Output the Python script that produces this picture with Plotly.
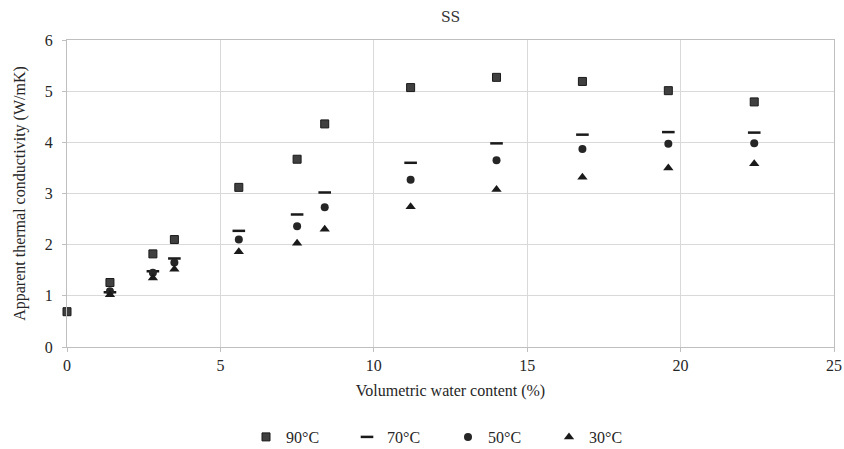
import plotly.graph_objects as go

x_vals = [0, 1.4, 2.8, 3.5, 5.6, 7.5, 8.4, 11.2, 14.0, 16.8, 19.6, 22.4]
k_90 = [0.69, 1.26, 1.82, 2.10, 3.12, 3.67, 4.36, 5.07, 5.27, 5.19, 5.01, 4.79]
k_70 = [None, 1.07, 1.48, 1.73, 2.27, 2.59, 3.02, 3.60, 3.98, 4.15, 4.20, 4.19]
k_50 = [None, 1.09, 1.45, 1.65, 2.10, 2.36, 2.73, 3.27, 3.65, 3.87, 3.97, 3.98]
k_30 = [None, 1.02, 1.35, 1.52, 1.86, 2.03, 2.30, 2.74, 3.08, 3.32, 3.50, 3.58]
series_names = ["90°C", "70°C", "50°C", "30°C"]

font_family = "Liberation Serif, Times New Roman, serif"

fig = go.Figure()
fig.add_trace(go.Scatter(x=x_vals, y=k_90, mode="markers", name=series_names[0],
                         cliponaxis=False,
                         marker=dict(symbol="square", size=8, color="#404040",
                                     line=dict(color="#1a1a1a", width=1))))
fig.add_trace(go.Scatter(x=x_vals, y=k_70, mode="markers", name=series_names[1],
                         cliponaxis=False,
                         marker=dict(symbol="line-ew", size=9, color="#1a1a1a",
                                     line=dict(color="#1a1a1a", width=2.5))))
fig.add_trace(go.Scatter(x=x_vals, y=k_50, mode="markers", name=series_names[2],
                         cliponaxis=False,
                         marker=dict(symbol="circle", size=8, color="#262626",
                                     line=dict(width=0))))
fig.add_trace(go.Scatter(x=x_vals, y=k_30, mode="markers", name=series_names[3],
                         cliponaxis=False,
                         marker=dict(symbol="triangle-up", size=9, color="#1a1a1a",
                                     line=dict(width=0))))

fig.update_layout(
    width=844, height=449,
    margin=dict(l=67, r=10, t=40, b=102),
    paper_bgcolor="white", plot_bgcolor="white",
    font=dict(family=font_family, size=16, color="#262626"),
    title=dict(text="SS", x=0.5, xref="paper", xanchor="center",
               y=0.963, yref="container", yanchor="middle",
               font=dict(family="DejaVu Serif, serif", size=14, color="#333333")),
    showlegend=True,
    legend=dict(orientation="h", x=448 / 844, xref="container", xanchor="center",
                y=1 - 437 / 449, yref="container", yanchor="middle",
                font=dict(family=font_family, size=16),
                entrywidth=56, entrywidthmode="pixels",
                itemwidth=30, tracegroupgap=0),
    xaxis=dict(range=[0, 25], tickvals=[0, 5, 10, 15, 20, 25],
               showgrid=True, gridcolor="#d9d9d9", gridwidth=1,
               showline=True, linecolor="#bfbfbf", linewidth=1, mirror=True,
               ticks="outside", ticklen=4, tickcolor="#bfbfbf",
               zeroline=False, automargin=False, ticklabeloverflow="allow",
               title=dict(text="Volumetric water content (%)", standoff=11,
                          font=dict(family=font_family, size=16)),
               tickfont=dict(family=font_family, size=16)),
    yaxis=dict(range=[0, 6], dtick=1,
               showgrid=True, gridcolor="#d9d9d9", gridwidth=1,
               showline=True, linecolor="#bfbfbf", linewidth=1, mirror=True,
               ticks="outside", ticklen=4, tickcolor="#bfbfbf",
               ticklabelstandoff=6,
               zeroline=False, automargin=False,
               title=dict(text="Apparent thermal conductivity (W/mK)", standoff=15,
                          font=dict(family=font_family, size=16)),
               tickfont=dict(family=font_family, size=16)),
)

fig.write_html("out.html", config={"displayModeBar": False},
               post_script="document.body.style.margin='0';")
